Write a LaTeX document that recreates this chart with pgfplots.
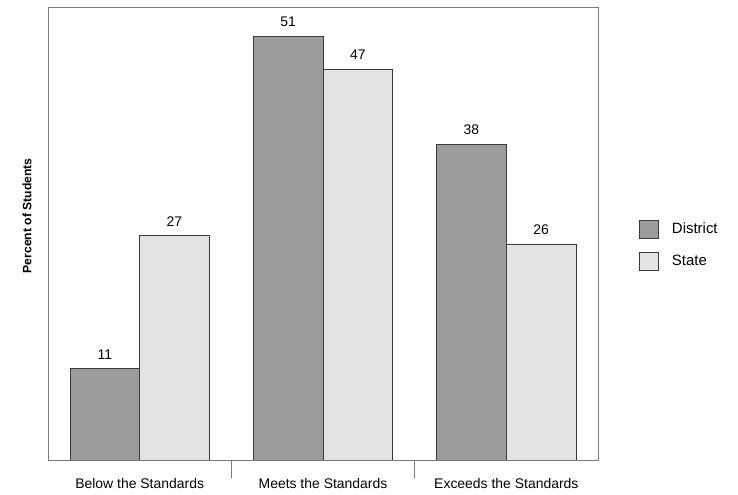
\documentclass[border=0pt]{standalone}
\usepackage{pgfplots}
\pgfplotsset{compat=1.18}
\usepackage{fontspec}
\setmainfont{Liberation Sans}

\definecolor{districtfill}{HTML}{9C9C9C}
\definecolor{statefill}{HTML}{E3E3E3}
\definecolor{edge}{HTML}{3A3A3A}
\definecolor{frame}{HTML}{7A7A7A}

\begin{document}
\begin{tikzpicture}
\path[use as bounding box] (0,0) rectangle (738bp,495bp);
\begin{axis}[
  at={(48bp,35bp)}, anchor=south west,
  scale only axis,
  width=550bp, height=453bp,
  ybar=0pt,
  bar width=0.38,
  xmin=-0.5, xmax=2.5,
  ymin=0, ymax=54.5,
  % separators between the category groups
  xtick={0.5,1.5},
  xticklabels={},
  xtick pos=lower,
  xtick style={draw=frame, thick},
  tick align=outside,
  major tick length=18bp,
  % category names, without tick marks
  extra x ticks={0,1,2},
  extra x tick labels={Below the Standards, Meets the Standards, Exceeds the Standards},
  extra x tick style={major tick length=0pt,
    xticklabel style={font=\fontsize{14}{16}\selectfont, yshift=-15bp}},
  ytick=\empty,
  axis line style={draw=frame, thick},
  ylabel={\bfseries Percent of Students},
  ylabel style={at={(axis description cs:-0.038,0.539)}, anchor=center,
    font=\fontsize{12.2}{14}\selectfont},
  nodes near coords,
  every node near coord/.append style={font=\fontsize{14}{16}\selectfont,
    text=black, yshift=6bp},
  /pgf/number format/assume math mode=true,
  legend style={at={(1.068,0.474)}, anchor=west, draw=none,
    font=\fontsize{15}{17}\selectfont, row sep=14bp,
    /tikz/every odd column/.append style={column sep=12bp}},
  legend cell align=left,
  legend image code/.code={
    \draw[#1, draw=edge] (0bp,-9bp) rectangle (19bp,9bp);
  },
]
\addplot[fill=districtfill, draw=edge] coordinates {(0,11) (1,51) (2,38)};
\addplot[fill=statefill, draw=edge] coordinates {(0,27) (1,47) (2,26)};
\legend{District, State}
\end{axis}
\end{tikzpicture}
\end{document}
